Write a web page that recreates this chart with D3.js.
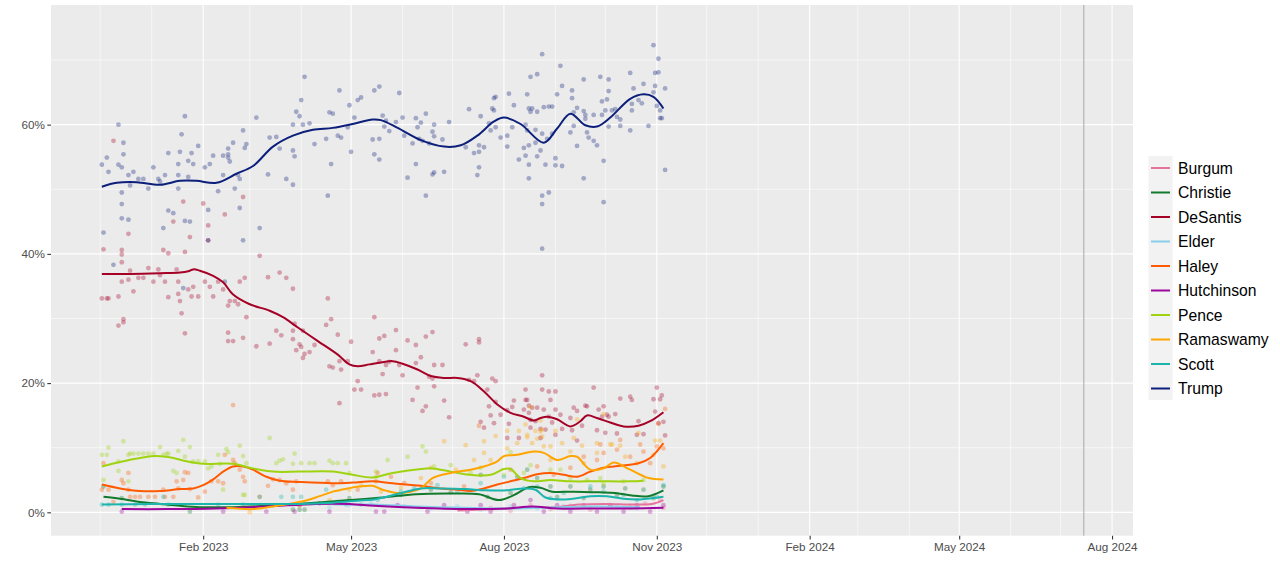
<!DOCTYPE html>
<html><head><meta charset="utf-8">
<script src="https://cdn.jsdelivr.net/npm/d3@7"></script>
<style>body{margin:0;background:#fff}svg{display:block}text{font-family:"Liberation Sans",Arial,sans-serif}</style>
</head><body>
<script>
// x values: days since 2022-12-01 ; y values: percent
const dayZero = "2022-12-01";
const dataStart = "2022-12-01", dataEnd = "2024-07-15";
const conventionDate = "2024-07-15";
const candidates = ["Burgum","Christie","DeSantis","Elder","Haley","Hutchinson","Pence","Ramaswamy","Scott","Trump"];
const colors = ["#E7749C","#117A2C","#A50026","#87CEEB","#FF5A00","#9C069C","#9FD30F","#FFA500","#1BB5AE","#0C1F7A"];
const majorTicks = ["2023-02-01","2023-05-01","2023-08-01","2023-11-01","2024-02-01","2024-05-01","2024-08-01"];
const yMajor = [0,20,40,60], yMinor = [10,30,50,70];

const trumpTrend = [[1,50.4],[10,51.0],[22,51.1],[36,50.7],[48,51.3],[58,51.3],[70,51.0],[82,52.4],[92,53.6],[104,56.6],[116,58.3],[128,59.2],[140,59.5],[152,60.1],[164,60.8],[169,60.7],[179,59.5],[193,57.6],[207,56.6],[217,56.8],[227,58.3],[237,60.5],[243,61.1],[253,60.1],[267,57.2],[275,59.4],[283,61.7],[292,59.9],[299,59.7],[307,61.1],[319,64.0],[327,64.7],[333,64.3],[339,62.5]];
const desantisTrend = [[1,36.9],[18,36.9],[36,37.0],[48,37.1],[53,37.3],[56,37.6],[60,37.4],[68,36.6],[74,35.6],[80,33.7],[90,32.2],[102,31.2],[110,30.2],[119,28.6],[131,26.5],[143,24.4],[150,22.9],[155,22.6],[162,22.9],[169,23.2],[176,23.4],[182,23.0],[191,22.1],[199,21.1],[207,20.8],[215,20.8],[223,20.3],[231,18.7],[239,16.7],[247,15.4],[255,14.8],[261,14.2],[265,14.6],[269,14.8],[275,14.4],[283,13.3],[289,14.1],[293,15.0],[299,14.6],[307,13.9],[315,13.3],[324,13.4],[331,14.1],[339,15.5]];
const penceTrend = [[1,7.1],[12,7.8],[24,8.4],[34,8.7],[44,8.4],[52,7.9],[62,7.5],[80,7.5],[92,6.8],[104,6.3],[120,6.3],[140,6.3],[152,5.8],[164,5.4],[176,6.1],[193,6.7],[200,6.8],[211,6.3],[223,5.8],[235,5.8],[243,6.7],[247,6.7],[253,5.3],[261,4.8],[271,5.0],[283,4.8],[299,4.8],[319,4.8],[327,4.9]];
const haleyTrend = [[1,4.3],[12,3.7],[24,3.3],[36,3.3],[48,3.6],[56,3.7],[62,4.2],[68,5.1],[74,6.3],[80,7.1],[86,7.1],[92,6.6],[100,5.5],[108,4.9],[120,4.7],[140,4.5],[152,4.6],[164,4.8],[176,4.5],[193,4.1],[205,3.7],[215,3.5],[223,3.3],[231,3.7],[239,4.3],[247,4.8],[255,5.3],[263,5.9],[271,6.1],[279,5.8],[287,5.5],[295,6.3],[303,6.9],[313,7.2],[324,7.6],[331,8.4],[339,10.7]];
const ramaswamyTrend = [[76,0.7],[92,0.5],[104,0.9],[116,1.4],[125,1.9],[132,2.5],[140,3.2],[149,3.7],[156,4.0],[164,4.1],[170,3.5],[179,3.0],[187,3.2],[193,3.7],[200,5.3],[211,6.1],[223,6.6],[231,7.1],[239,7.9],[243,8.7],[251,8.9],[261,9.4],[267,9.2],[275,8.1],[283,8.7],[287,8.6],[295,6.6],[303,6.8],[309,7.7],[319,6.6],[330,5.3],[339,5.1]];
const christieTrend = [[2,2.4],[12,2.1],[24,1.6],[36,1.3],[48,1.0],[60,0.8],[80,0.8],[100,1.0],[125,1.4],[150,1.9],[170,2.3],[190,2.8],[210,2.9],[228,2.8],[240,1.9],[250,2.8],[258,3.9],[265,3.8],[272,3.2],[285,3.2],[300,3.1],[310,3.0],[320,2.6],[330,2.5],[339,3.4]];
const scottTrend = [[1,1.2],[30,1.3],[60,1.3],[90,1.3],[120,1.3],[140,1.5],[155,1.8],[165,2.0],[180,2.9],[193,3.7],[205,3.7],[220,3.6],[232,3.4],[245,3.4],[255,3.7],[262,3.5],[268,2.3],[280,2.0],[295,2.5],[305,2.5],[315,2.1],[325,2.0],[339,2.4]];
const hutchinsonTrend = [[13,0.5],[40,0.5],[70,0.6],[100,0.9],[130,1.3],[150,1.3],[165,1.0],[190,0.7],[220,0.5],[245,0.6],[260,0.9],[275,0.6],[300,0.6],[320,0.6],[339,0.7]];
const elderTrend = [[140,1.2],[165,1.2],[190,0.9],[220,0.7],[250,0.6],[275,0.8],[300,0.9],[325,0.8]];
const burgumTrend = [[215,0.3],[240,0.5],[260,0.8],[275,0.8],[288,1.2],[305,1.3],[320,1.2],[332,1.3],[339,1.9]];

const trumpPolls = [[1,53.8],[4,54.9],[5,52.7],[11,60.0],[11,53.8],[13,53.4],[14,57.2],[14,55.4],[17,52.2],[18,50.6],[13,49.5],[13,47.7],[13,45.5],[20,52.7],[23,51.6],[26,51.6],[29,50.1],[32,53.4],[35,51.6],[36,51.2],[39,52.2],[41,55.6],[41,46.7],[44,46.3],[47,53.9],[47,52.2],[47,50.1],[48,55.8],[49,58.5],[51,61.3],[53,54.4],[53,51.9],[55,55.6],[56,53.9],[59,56.7],[63,53.4],[65,46.8],[66,53.9],[68,55.2],[71,49.7],[74,55.2],[74,52.2],[77,56.3],[77,55.4],[77,54.9],[78,54.3],[80,57.2],[81,50.1],[83,52.2],[84,51.6],[84,47.1],[86,59.1],[87,56.4],[88,57.0],[94,61.1],[101,52.3],[102,58.0],[106,58.1],[108,56.3],[112,51.6],[116,60.0],[116,56.0],[116,50.7],[117,55.1],[118,62.0],[120,61.3],[121,63.8],[122,60.0],[123,67.4],[126,60.2],[129,57.0],[136,57.8],[137,49.0],[138,61.9],[139,53.9],[140,61.7],[143,58.3],[144,65.3],[145,58.0],[149,59.6],[150,63.0],[151,55.8],[153,61.1],[155,63.8],[157,64.2],[164,57.7],[165,65.3],[165,55.4],[168,54.6],[168,65.9],
[2,43.3],[8,38.3],[17,45.3],[38,44.0],[51,45.1],[54,45.0],[50,34.7],[65,42.1],[86,42.1],[96,44.0],[75,35.7],
[168,57.8],[170,61.4],[172,60.6],[171,59.7],[174,59.0],[178,60.4],[180,64.9],[182,61.1],[183,58.3],[185,51.8],[188,57.1],[190,61.0],[190,53.9],[191,59.6],[192,57.8],[193,60.3],[194,57.5],[196,61.7],[196,49.0],[198,57.1],[200,58.9],[200,52.3],[201,52.6],[201,60.0],[201,58.2],[206,57.7],[207,52.7],[210,60.4],[220,56.5],[222,62.4],[225,55.6],[227,52.2],[228,56.8],[228,55.8],[228,53.4],[229,61.3],[231,56.5],[234,60.2],[235,59.1],[236,62.5],[237,64.1],[237,62.2],[238,64.3],[238,59.6],[241,58.0],[245,58.3],[245,56.6],[246,64.8],[248,59.6],[249,63.0],[252,54.6],[255,56.4],[256,55.2],[256,60.0],[257,64.7],[257,59.1],[258,62.5],[258,56.8],[258,53.8],[258,51.7],[259,67.4],[259,62.0],[260,62.5],[262,57.2],[263,67.8],[263,55.1],[263,62.0],[262,59.2],[265,56.0],[266,58.6],[266,49.0],[266,47.7],[266,40.8],[267,62.7],[268,53.8],[269,57.8],[270,49.5],[270,62.8],[272,58.6],[272,62.8],[274,54.8],[274,53.7],[275,64.7],[277,69.1],[278,66.0],[278,53.6],[283,58.8],[284,65.3],[284,64.1],[285,61.9],[285,59.8],[287,62.6],[287,56.7],[291,67.0],[291,62.1],[291,51.7],[292,61.5],[292,60.9],[293,58.8],[294,58.0],[297,61.5],[297,57.5],[299,56.8],[301,67.4],[302,61.5],[302,63.6],[303,54.4],[303,48.0],[304,62.2],[305,63.9],[306,65.2],[306,67.0],[306,59.7],[308,62.2],[310,62.4],[311,61.2],[313,60.8],[313,59.8],[319,68.0],[319,59.1],[320,63.2],[320,62.2],[321,65.6],[324,63.8],[326,63.3],[327,66.3],[330,59.8],[333,65.0],[334,68.0],[334,66.0],[335,62.9],[336,68.1],[337,62.2],[337,61.0],[338,61.0],[340,65.6],[340,53.0],[266,70.9],[333,72.3],[336,70.2]];

const desantisPolls = [[8,57.5],[2,40.7],[1,33.1],[4,33.1],[5,33.1],[11,33.4],[11,28.9],[13,40.6],[13,39.9],[13,38.7],[13,35.7],[14,29.9],[14,29.4],[17,43.1],[17,36.0],[18,37.4],[20,34.2],[23,36.3],[26,36.3],[29,37.8],[32,35.7],[35,37.6],[36,36.7],[38,40.6],[39,35.7],[41,40.1],[41,33.3],[46,37.6],[47,35.7],[47,33.8],[48,32.7],[49,30.8],[51,40.3],[51,27.7],[53,34.5],[54,42.6],[56,34.9],[55,33.4],[59,33.4],[63,35.7],[66,34.9],[68,33.4],[71,35.7],[74,34.5],[77,32.0],[78,32.7],[81,32.7],[83,32.2],[84,35.7],[87,36.3],[88,30.2],[77,27.8],[77,26.5],[80,26.5],[86,27.0],[94,25.7],[96,39.7],[101,36.4],[102,26.1],[106,28.1],[108,37.1],[109,27.4],[112,36.3],[116,34.6],[116,28.1],[116,26.8],[117,29.2],[118,25.1],[120,26.0],[121,25.6],[122,28.1],[122,23.9],[123,24.5],[126,24.8],[129,25.9],[136,29.0],[137,33.1],[138,22.6],[139,29.9],[140,22.4],[143,27.5],[144,23.4],[145,22.1],[144,16.9],[149,23.4],[151,26.4],[153,19.0],[155,20.3],[157,19.0],[164,24.8],[165,30.2],[165,18.1],[168,26.9],[168,18.2],
[50,48.1],[44,45.0],[65,44.4],[75,46.1],[86,48.8],[62,47.8],[65,42.1],
[171,27.3],[168,23.4],[170,21.4],[172,22.8],[174,23.3],[172,18.3],[178,28.2],[178,25.1],[180,22.8],[182,21.2],[185,26.6],[188,17.4],[190,25.9],[190,23.1],[191,19.3],[193,24.0],[194,15.7],[196,27.2],[196,16.4],[198,21.0],[200,27.9],[200,20.7],[201,22.8],[201,19.5],[206,22.8],[207,17.3],[210,14.7],[220,26.0],[222,20.5],[225,20.3],[227,21.2],[228,26.8],[228,26.3],[229,14.0],[231,13.1],[233,19.0],[234,16.4],[235,15.0],[236,20.7],[237,13.8],[238,20.3],[238,17.1],[241,15.1],[245,15.8],[245,11.5],[246,13.7],[248,16.3],[249,17.3],[252,11.5],[255,15.9],[256,19.0],[256,17.4],[257,17.4],[258,16.5],[258,15.4],[259,14.3],[259,13.1],[260,16.2],[262,14.1],[263,16.2],[265,12.9],[265,11.5],[266,21.2],[266,19.0],[267,15.9],[268,12.8],[270,18.7],[270,14.8],[271,17.4],[272,13.9],[274,18.7],[274,15.9],[274,12.0],[277,15.1],[278,12.9],[283,14.6],[284,12.7],[285,16.2],[287,15.7],[287,11.1],[290,13.4],[292,16.5],[293,16.4],[297,19.3],[299,12.7],[300,15.9],[302,14.8],[303,16.4],[304,12.3],[305,15.1],[306,14.8],[310,15.2],[311,12.2],[313,17.6],[319,17.9],[320,17.4],[323,12.0],[324,14.1],[327,12.1],[333,17.5],[334,15.6],[335,19.3],[336,13.8],[337,17.5],[338,18.1],[339,14.0],[340,11.9]];

const pencePolls = [[1,8.9],[4,8.9],[5,10.0],[2,5.0],[11,7.9],[11,6.4],[14,11.0],[17,8.9],[17,4.8],[18,9.1],[20,9.1],[23,9.1],[26,9.1],[29,9.1],[32,9.1],[36,10.1],[38,8.9],[40,9.1],[41,9.1],[44,6.4],[46,6.1],[47,9.5],[50,11.2],[51,8.6],[54,10.1],[56,7.9],[59,7.9],[63,7.9],[65,6.8],[67,7.1],[71,8.9],[72,7.5],[74,3.5],[76,9.8],[77,9.3],[84,10.3],[86,8.7],[86,2.7],[87,2.7],[88,7.6],[102,11.5],[106,7.6],[108,8.0],[110,8.2],[116,7.5],[117,9.1],[121,7.6],[126,7.6],[129,7.6],[138,8.0],[140,7.6],[143,7.6],[148,7.6],[150,6.1],[166,6.3],[166,5.5],[173,8.1],[185,8.6],[194,10.2],[196,9.4],[201,7.1],[211,7.3],[223,6.1],[243,5.8],[255,6.1],[271,6.6],[283,5.3],[293,5.0],[303,4.5],[315,4.8],[327,5.0],[247,9.3],[229,6.9],[259,7.3],[277,6.6],[301,5.3]];
const haleyPolls = [[2,7.6],[1,3.5],[5,3.5],[8,1.6],[13,5.0],[14,4.5],[17,6.1],[17,3.5],[18,2.4],[21,2.4],[24,2.4],[29,2.4],[33,2.4],[38,3.5],[39,2.4],[44,2.4],[46,4.8],[47,3.7],[50,5.0],[51,6.2],[53,6.1],[54,3.6],[59,2.3],[63,3.2],[67,4.8],[71,4.8],[74,4.5],[75,8.9],[80,8.1],[81,7.6],[84,6.6],[86,5.5],[87,4.8],[96,2.4],[101,4.1],[104,5.1],[108,5.0],[112,4.5],[116,3.5],[118,4.8],[137,4.8],[140,4.2],[145,4.8],[155,3.5],[166,4.8],[80,16.6],[167,6.1],[175,5.5],[183,4.5],[199,4.5],[219,4.0],[228,13.4],[247,6.6],[263,7.1],[273,5.8],[283,6.9],[291,8.6],[299,8.1],[303,9.2],[311,9.7],[319,8.6],[327,9.4],[335,10.2],[339,9.9],[331,7.6],[340,16.0],[336,13.7],[313,11.2],[325,10.5],[301,10.5]];
const ramaswamyPolls = [[207,11.0],[231,11.0],[238,11.8],[245,12.6],[252,12.6],[256,13.6],[257,11.6],[259,16.3],[260,10.7],[262,12.6],[263,11.4],[265,14.2],[266,12.8],[266,11.7],[267,10.2],[274,12.6],[271,10.2],[278,10.7],[285,11.5],[287,14.4],[290,10.3],[299,10.7],[303,15.2],[308,10.5],[313,10.3],[324,12.3],[334,11.1],[337,11.1],[225,8.1],[231,9.2],[235,8.1],[245,9.9],[251,10.7],[257,12.0],[265,12.5],[271,8.1],[283,9.4],[291,7.6],[299,9.2],[307,10.5],[316,8.6],[323,7.6],[333,8.9],[339,7.1],[90,0.0],[120,1.1],[138,1.9],[150,3.5],[157,4.2],[169,3.2],[181,3.8],[193,5.3],[199,6.9],[214,6.6],[220,10.4]];
const christiePolls = [[2,4.0],[13,2.2],[54,0.1],[116,0.4],[120,0.4],[123,0.4],[229,5.8],[251,5.5],[257,6.6],[263,5.3],[271,4.0],[283,4.0],[295,3.5],[303,4.0],[316,3.7],[327,3.5],[339,4.0],[233,2.4],[247,3.0],[275,2.4],[291,2.2],[311,2.7],[333,2.2],[181,2.7],[199,3.5],[211,3.1],[150,2.2]];
const scottPolls = [[1,1.2],[5,1.2],[13,1.2],[21,1.2],[27,1.2],[38,2.4],[41,1.2],[71,1.2],[86,1.2],[96,2.4],[109,2.4],[116,2.4],[121,2.4],[136,3.5],[143,1.6],[148,1.2],[157,1.2],[167,1.9],[181,3.2],[189,3.7],[203,4.2],[215,3.2],[229,4.5],[243,5.5],[255,3.7],[263,4.0],[271,2.2],[279,3.0],[295,4.0],[303,3.2],[315,2.7],[323,1.9],[335,2.4],[339,4.2]];
const hutchinsonPolls = [[13,0.1],[74,0.1],[100,0.1],[117,0.1],[138,0.1],[166,0.1],[171,0.1],[179,1.1],[197,0.1],[207,1.1],[221,0.1],[229,1.1],[235,0.1],[249,1.1],[259,1.9],[267,0.1],[275,1.1],[283,0.1],[291,1.1],[299,0.1],[307,1.1],[315,0.1],[323,1.1],[331,0.1],[339,1.1],[120,1.1],[132,1.4]];
const elderPolls = [[183,0.9],[199,0.6],[215,0.9],[229,0.4],[247,0.9],[263,0.6],[279,1.0],[295,0.8],[311,0.9],[323,0.6],[138,0.8],[150,1.1],[163,1.4]];
const burgumPolls = [[235,0.7],[247,0.2],[259,1.1],[271,0.5],[283,1.0],[295,0.4],[307,1.1],[319,0.8],[328,1.4],[337,1.9],[339,0.7]];

const polls = [burgumPolls,christiePolls,desantisPolls,elderPolls,haleyPolls,hutchinsonPolls,pencePolls,ramaswamyPolls,scottPolls,trumpPolls];
const trends = [burgumTrend,christieTrend,desantisTrend,elderTrend,haleyTrend,hutchinsonTrend,penceTrend,ramaswamyTrend,scottTrend,trumpTrend];

const W = 1280, H = 569;
const P = {l:51, r:1133, t:5, b:535.7};
const parse = d3.utcParse("%Y-%m-%d");
const t0 = parse(dayZero);
const toDate = d => d3.utcDay.offset(t0, d[0]);
const ds = parse(dataStart), de = parse(dataEnd);
const span = de - ds;
const x = d3.scaleUtc().domain([new Date(+ds - span*0.05), new Date(+de + span*0.05)]).range([P.l, P.r]);
const yLo = 0, yHi = 74.9, yr = yHi - yLo;
const y = d3.scaleLinear().domain([yLo - 0.0483*yr, yHi + 0.0483*yr]).range([P.b, P.t]);

const svg = d3.select("body").append("svg").attr("width", W).attr("height", H);
svg.append("rect").attr("x",P.l).attr("y",P.t).attr("width",P.r-P.l).attr("height",P.b-P.t).attr("fill","#EBEBEB");

// grid
const minorMonths = d3.utcMonth.range(x.domain()[0], x.domain()[1]).filter(m => !majorTicks.includes(d3.utcFormat("%Y-%m-%d")(m)));
const g = svg.append("g");
g.selectAll(".vmin").data(minorMonths).join("line").attr("x1",d=>x(d)).attr("x2",d=>x(d)).attr("y1",P.t).attr("y2",P.b).attr("stroke","#fff").attr("stroke-width",0.55);
g.selectAll(".hmin").data(yMinor).join("line").attr("x1",P.l).attr("x2",P.r).attr("y1",d=>y(d)).attr("y2",d=>y(d)).attr("stroke","#fff").attr("stroke-width",0.55);
const majDates = majorTicks.map(parse);
g.selectAll(".vmaj").data(majDates).join("line").attr("x1",d=>x(d)).attr("x2",d=>x(d)).attr("y1",P.t).attr("y2",P.b).attr("stroke","#fff").attr("stroke-width",1.1);
g.selectAll(".hmaj").data(yMajor).join("line").attr("x1",P.l).attr("x2",P.r).attr("y1",d=>y(d)).attr("y2",d=>y(d)).attr("stroke","#fff").attr("stroke-width",1.1);

// convention line
svg.append("line").attr("x1",x(parse(conventionDate))).attr("x2",x(parse(conventionDate))).attr("y1",P.t).attr("y2",P.b).attr("stroke","#A8A8A8").attr("stroke-width",1);

// points
const pts = svg.append("g");
polls.forEach((arr,i)=>{
  pts.selectAll(null).data(arr).join("circle").attr("cx",d=>x(toDate(d))).attr("cy",d=>y(d[1])).attr("r",2.4).attr("fill",colors[i]).attr("fill-opacity",0.33);
});
// trend lines
const line = d3.line().x(d=>x(toDate(d))).y(d=>y(d[1])).curve(d3.curveCatmullRom.alpha(0.5));
trends.forEach((arr,i)=>{
  svg.append("path").attr("d",line(arr)).attr("fill","none").attr("stroke",colors[i]).attr("stroke-width",2).attr("stroke-linejoin","round").attr("stroke-linecap","butt");
});

// axes
const xa = svg.append("g").attr("transform",`translate(0,${P.b})`)
  .call(d3.axisBottom(x).tickValues(majDates).tickFormat(d3.utcFormat("%b %Y")).tickSize(3.7).tickPadding(3));
const ya = svg.append("g").attr("transform",`translate(${P.l},0)`)
  .call(d3.axisLeft(y).tickValues(yMajor).tickFormat(d=>d+"%").tickSize(3.7).tickPadding(2.5));
[xa,ya].forEach(a=>{
  a.select(".domain").remove();
  a.selectAll(".tick line").attr("stroke","#333").attr("stroke-width",1.07);
  a.selectAll(".tick text").attr("fill","#4D4D4D").style("font-size","11.7px").style("font-family",'"Liberation Sans",Arial,sans-serif');
});

// legend
const lg = svg.append("g");
lg.append("rect").attr("x",1148.5).attr("y",156).attr("width",24).attr("height",244).attr("fill","#F2F2F2");
candidates.forEach((c,i)=>{
  const yy = 168 + i*24.5;
  lg.append("line").attr("x1",1151).attr("x2",1170).attr("y1",yy).attr("y2",yy).attr("stroke",colors[i]).attr("stroke-width",2);
  lg.append("text").attr("x",1178).attr("y",yy+5.6).text(c).attr("fill","#000").style("font-size","15.7px");
});
</script>
</body></html>
